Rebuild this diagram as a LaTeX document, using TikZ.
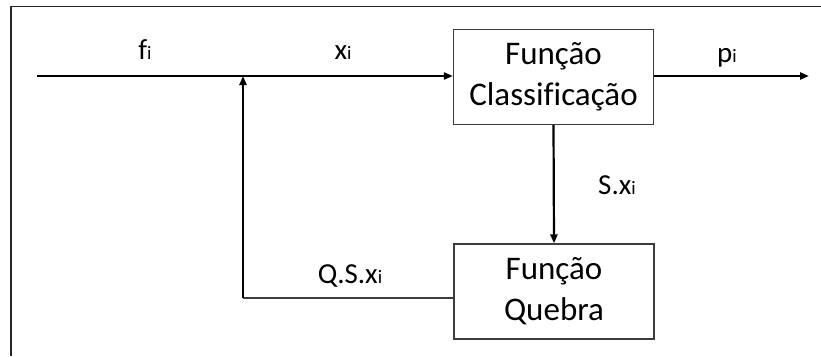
\documentclass[tikz,border=0pt]{standalone}
\usepackage{fontspec}
\setmainfont[Ligatures=NoCommon]{Carlito}
\usetikzlibrary{arrows.meta, positioning}
\definecolor{boxgray}{RGB}{60,60,60}
\newcommand{\idx}{{\fontsize{19}{19}\selectfont i}}

\begin{document}
\begin{tikzpicture}[x=1pt, y=-1pt, >={Triangle[length=9pt, width=7pt]},
        block/.style={draw=boxgray, line width=1.2pt, minimum width=200pt, minimum height=95pt, align=center, font=\fontsize{33}{41}\selectfont, inner sep=0pt},
        lbl/.style={anchor=base, inner sep=0pt, font=\fontsize{29}{32}\selectfont},
        flow/.style={->, line width=2.2pt, black}]
        \useasboundingbox (0,0) rectangle (821,356);

        % Frame
        \draw[line width=1.6pt, black!85] (11,356) -- (11,6.5) -- (821,6.5);

        % Blocks
        \node[block] (classif) at (553.5,77) {Função\\Classificação};
        \node[block] (quebra) at (554,291.5) {Função\\Quebra};

        % Points
        \coordinate (in) at (37,76);
        \coordinate (junc) at (243,76);
        \coordinate (out) at (809,76);
        \coordinate (corner) at (243,298);

        % Labels
        \node[lbl] (fi) at (145,59) {f\idx};
        \node[lbl] (xi) at (343,59) {x\idx};
        \node[lbl] (pi) at (727,62) {p\idx};
        \node[lbl] (sxi) at (617,194) {S.x\idx};
        \node[lbl] (qsxi) at (350,283) {Q.S.x\idx};

        % Arrows
        \draw[line width=2.2pt] (in) -- (junc);
        \draw[flow] (junc) -- (classif.west |- junc);
        \draw[flow] (classif.east |- out) -- (out);
        \draw[flow] (classif.south) -- (quebra.north);
        \draw[line width=1.3pt, boxgray] (quebra.west |- corner) -- (corner);
        \draw[flow] (corner) -- (junc);
    \end{tikzpicture}
\end{document}
